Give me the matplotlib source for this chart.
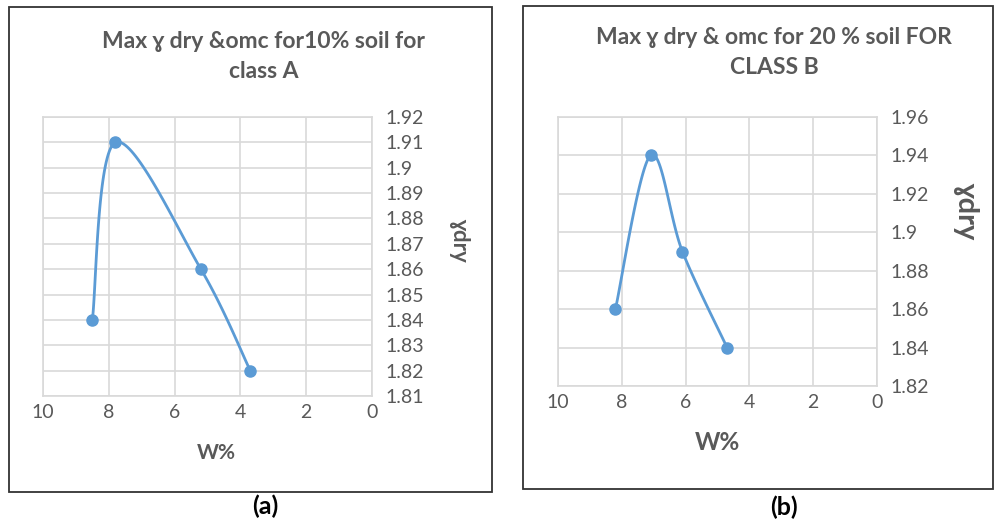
import matplotlib.pyplot as plt
import numpy as np
from matplotlib.patches import Rectangle

plt.rcParams['font.family'] = ['Lato', 'DejaVu Sans']

# data
wA = [8.5, 7.8, 5.2, 3.7]
gA = [1.84, 1.91, 1.86, 1.82]
wB = [8.2, 7.1, 6.1, 4.7]
gB = [1.86, 1.94, 1.89, 1.84]

titleA = ['Max ɣ dry &omc for10% soil for', 'class A']
titleB = ['Max ɣ dry & omc for 20 % soil FOR', 'CLASS B']

GRAY = '#595959'
GRID = '#d9d9d9'
BLUE = '#5b9bd5'
W, H = 994, 532


def smooth(x, y, n=40):
    # Excel style smoothed line (Catmull-Rom bezier)
    p = np.column_stack([x, y]).astype(float)
    p = np.vstack([p[0], p, p[-1]])
    out = []
    t = np.linspace(0, 1, n)[:, None]
    for i in range(1, len(p) - 2):
        p0, p1, p2, p3 = p[i - 1], p[i], p[i + 1], p[i + 2]
        b1 = p1 + (p2 - p0) / 6
        b2 = p2 - (p3 - p1) / 6
        seg = ((1 - t) ** 3) * p1 + 3 * ((1 - t) ** 2) * t * b1 + 3 * (1 - t) * t ** 2 * b2 + t ** 3 * p2
        out.append(seg)
    out = np.vstack(out)
    return out[:, 0], out[:, 1]


def panel(fig, rect, x, y, ylim, ystep):
    ax = fig.add_axes(rect)
    sx, sy = smooth(x, y)
    ax.plot(sx, sy, color=BLUE, lw=2, zorder=3)
    ax.plot(x, y, 'o', color=BLUE, ms=8, zorder=4)
    ax.set_xlim(10, 0)
    ax.set_ylim(*ylim)
    ax.set_xticks(np.arange(0, 11, 2))
    ax.set_yticks(np.round(np.arange(ylim[0], ylim[1] + 1e-9, ystep), 2))
    ax.yaxis.tick_right()
    ax.yaxis.set_major_formatter(plt.FuncFormatter(lambda v, _: ('%.2f' % v).rstrip('0').rstrip('.')))
    ax.grid(True, color=GRID, lw=1.2)
    for s in ax.spines.values():
        s.set_color(GRID)
        s.set_linewidth(1.2)
    ax.tick_params(length=0, labelsize=14, labelcolor=GRAY, pad=6)
    ax.tick_params(axis='y', pad=10)
    return ax


fig = plt.figure(figsize=(W / 100, H / 100), dpi=100)

# panel borders
fig.patches.append(Rectangle((9 / W, 1 - 492 / H), 483 / W, 485 / H, transform=fig.transFigure,
                             fill=False, ec='#333333', lw=1.3))
fig.patches.append(Rectangle((523 / W, 1 - 489 / H), 470 / W, 483 / H, transform=fig.transFigure,
                             fill=False, ec='#333333', lw=1.3))

panel(fig, [43 / W, 1 - 396 / H, 329 / W, 279 / H], wA, gA, (1.81, 1.92), 0.01)
panel(fig, [558 / W, 1 - 386 / H, 319 / W, 269 / H], wB, gB, (1.82, 1.96), 0.02)

for txt, yy in zip(titleA, [41, 72]):
    fig.text(264 / W, 1 - yy / H, txt, ha='center', va='center', fontsize=16.5, fontweight='bold', color=GRAY)
for txt, yy in zip(titleB, [37, 68]):
    fig.text(774 / W, 1 - yy / H, txt, ha='center', va='center', fontsize=16.5, fontweight='bold', color=GRAY)

fig.text(216 / W, 1 - 453 / H, 'W%', ha='center', va='center', fontsize=15, fontweight='bold', color=GRAY)
fig.text(717 / W, 1 - 443 / H, 'W%', ha='center', va='center', fontsize=17.5, fontweight='bold', color=GRAY)
fig.text(460 / W, 1 - 240 / H, 'ɣdry', ha='center', va='center', fontsize=16, fontweight='bold',
         color=GRAY, rotation=270)
fig.text(966 / W, 1 - 211 / H, 'ɣdry', ha='center', va='center', fontsize=21, fontweight='bold',
         color=GRAY, rotation=270)

fig.text(265 / W, 1 - 506 / H, '(a)', ha='center', va='center', fontsize=18, fontweight='bold')
fig.text(784 / W, 1 - 507 / H, '(b)', ha='center', va='center', fontsize=18, fontweight='bold')

fig.savefig('out.png', dpi=100)
